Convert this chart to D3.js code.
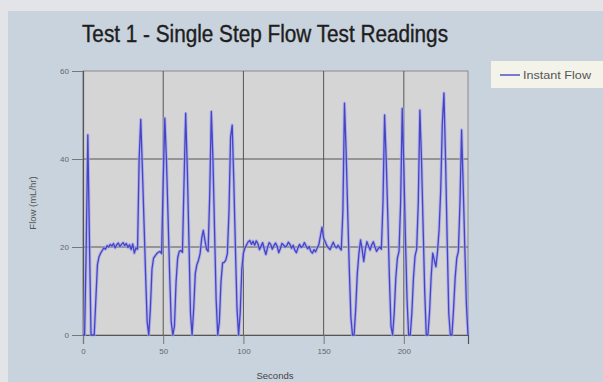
<!DOCTYPE html>
<html>
<head>
<meta charset="utf-8">
<script src="https://cdn.jsdelivr.net/npm/d3@7"></script>
<style>
  html, body { margin: 0; padding: 0; background: #e3e4e8; }
  svg { display: block; font-family: "Liberation Sans", Arial, sans-serif; }
</style>
</head>
<body>
<div id="chart"></div>
<script>
// flow readings, one per second (mL/hr)
const flow = [
  0, 0, 20, 45.5, 22, 0, 0, 0, 8, 16, 17.8,
  18.6, 19.2, 19.8, 19.5, 20.3, 20.0, 20.6, 20.2, 20.8, 19.8,
  20.5, 20.9, 20.1, 20.6, 21.0, 20.3, 20.8, 19.9, 20.5, 19.4,
  20.7, 18.6, 19.8, 19.5,
  40, 49, 38, 26, 14, 3, 0, 6, 15, 17.5, 18, 18.5, 18.8, 19.0, 18.5,
  35, 49.3, 40, 27, 14, 3, 0, 2, 12, 17.5, 19, 19.2, 18.8,
  35, 50.4, 38, 22, 5, 0, 6, 14, 16, 17, 18.5, 22, 23.8, 21.5, 19.5, 19,
  32, 50.8, 40, 24, 8, 0, 3, 12, 16.4, 16.5, 17, 18.5, 28, 45, 47.7, 35, 20, 6, 0, 5, 15, 18.6,
  19.8, 20.5, 21.2, 21.5, 20.6, 21.3, 20.4, 21.4, 20.8, 19.4,
  20.2, 21.0, 19.5, 18.3, 19.8, 21.0, 20.6, 19.5, 20.3, 20.9,
  20.2, 18.7, 19.6, 20.8, 20.5, 20.0, 20.3, 21.1, 20.6, 19.7,
  20.4, 19.3, 18.7, 19.8, 20.6, 19.9, 20.2, 21.0, 20.3, 19.6,
  20.1, 19.0, 18.6, 19.4, 18.9, 19.8, 20.5, 22.5, 24.5, 22.0,
  21.2, 20.3, 19.8, 19.4,
  20.3, 21.1, 20.2, 19.8, 20.4, 19.8, 19.3, 28, 52.7, 42, 28, 15, 4, 0, 0, 6, 14, 18.5,
  21.6, 19.5, 16.7, 19.5, 21.2, 20.2, 19.3, 20.5, 21.2, 20.0, 19.0, 19.6, 20.0, 19.5,
  30, 50, 40, 27, 13, 2, 0, 5, 13, 17.5, 19, 30, 51.5, 38, 22, 8, 0, 0, 5, 13, 18, 19.5,
  30, 51.1, 40, 25, 10, 0, 0, 5, 13, 18.6, 17, 15.5, 19, 24, 33, 48, 55, 40, 22, 5, 0, 0,
  6, 13, 17.5, 19, 30, 46.6, 34, 20, 7, 0
];
const seconds = d3.range(flow.length);
const xTicks = [0, 50, 100, 150, 200];
const yTicks = [0, 20, 40, 60];
const xGrid = [50, 100, 150, 200];
const yGrid = [20, 40];

const W = 603, H = 382;
const margin = { left: 83, right: 135, top: 71, bottom: 47 };

const svg = d3.select('#chart').append('svg')
  .attr('width', W)
  .attr('height', H);

// outer panel
svg.append('rect').attr('width', W).attr('height', H).attr('fill', '#e3e4e8');
svg.append('rect').attr('x', 8).attr('y', 11).attr('width', W - 8).attr('height', H - 11)
  .attr('fill', '#c9d3dd');

const x = d3.scaleLinear().domain([0, 240]).range([margin.left, W - margin.right]);
const y = d3.scaleLinear().domain([0, 60]).range([H - margin.bottom, margin.top]);

// plot area
svg.append('rect')
  .attr('x', x(0)).attr('y', y(60))
  .attr('width', x(240) - x(0)).attr('height', y(0) - y(60))
  .attr('fill', '#d5d5d5')
  .attr('stroke', '#8a8a8a')
  .attr('stroke-width', 1);

// grid lines
svg.append('g').selectAll('line').data(xGrid).enter().append('line')
  .attr('x1', d => x(d)).attr('x2', d => x(d))
  .attr('y1', y(0)).attr('y2', y(60))
  .attr('stroke', '#555').attr('stroke-width', 1);
svg.append('g').selectAll('line').data(yGrid).enter().append('line')
  .attr('x1', x(0)).attr('x2', x(240))
  .attr('y1', d => y(d)).attr('y2', d => y(d))
  .attr('stroke', '#555').attr('stroke-width', 1);

// axes
const xAxis = svg.append('g')
  .attr('transform', `translate(0,${y(0)})`)
  .call(d3.axisBottom(x).tickValues(xTicks).tickSize(9).tickPadding(4));
const yAxis = svg.append('g')
  .attr('transform', `translate(${x(0)},0)`)
  .call(d3.axisLeft(y).tickValues(yTicks).tickSize(11).tickPadding(3));

[xAxis, yAxis].forEach(g => {
  g.select('.domain').attr('stroke', '#555').attr('stroke-width', 1.2);
  g.selectAll('.tick line').attr('stroke', '#777');
  g.selectAll('.tick text').attr('fill', '#666').style('font-size', '8px');
});

// the flow line: soft halo plus core stroke
const line = d3.line()
  .x((d, i) => x(seconds[i]))
  .y(d => y(d));

svg.append('path').datum(flow)
  .attr('d', line)
  .attr('fill', 'none')
  .attr('stroke', '#a3a3ec')
  .attr('stroke-width', 3.2)
  .attr('stroke-opacity', 0.7)
  .attr('stroke-linejoin', 'round');
svg.append('path').datum(flow)
  .attr('d', line)
  .attr('fill', 'none')
  .attr('stroke', '#4444c6')
  .attr('stroke-width', 1.3)
  .attr('stroke-linejoin', 'round');

// title
svg.append('text')
  .attr('x', 265).attr('y', 41.5)
  .attr('text-anchor', 'middle')
  .attr('textLength', 366)
  .attr('lengthAdjust', 'spacingAndGlyphs')
  .style('font-size', '23px')
  .attr('fill', '#1e1e1e')
  .attr('stroke', '#1e1e1e')
  .attr('stroke-width', 0.4)
  .text('Test 1 - Single Step Flow Test Readings');

// axis titles
svg.append('text')
  .attr('transform', 'translate(36,203) rotate(-90)')
  .attr('text-anchor', 'middle')
  .style('font-size', '9.5px')
  .attr('fill', '#555')
  .text('Flow (mL/hr)');
svg.append('text')
  .attr('x', 275).attr('y', 379)
  .attr('text-anchor', 'middle')
  .style('font-size', '9.5px')
  .attr('fill', '#444')
  .text('Seconds');

// legend
const legend = svg.append('g');
legend.append('rect')
  .attr('x', 491).attr('y', 61).attr('width', 112).attr('height', 27)
  .attr('fill', '#f3f3ea');
legend.append('line')
  .attr('x1', 500).attr('x2', 520).attr('y1', 75).attr('y2', 75)
  .attr('stroke', '#4444c6').attr('stroke-width', 1.4);
legend.append('text')
  .attr('x', 523).attr('y', 78.5)
  .attr('textLength', 68)
  .attr('lengthAdjust', 'spacingAndGlyphs')
  .style('font-size', '10px')
  .attr('fill', '#555')
  .text('Instant Flow');
</script>
</body>
</html>
